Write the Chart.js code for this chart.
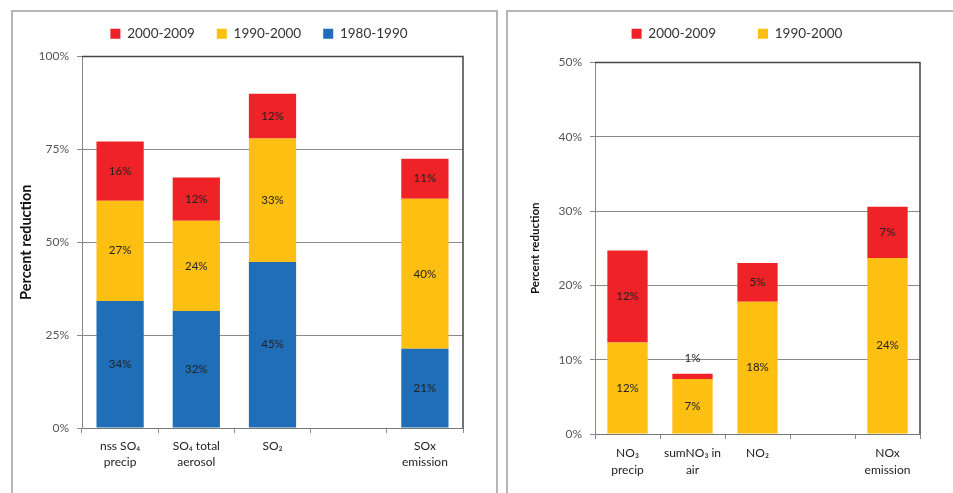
<!DOCTYPE html>
<html><head><meta charset="utf-8">
<script src="https://cdn.jsdelivr.net/npm/chart.js@4"></script>
<style>
html,body{margin:0;padding:0;background:#fff;overflow:hidden;width:953px;height:493px;}
.panel{position:absolute;border:2px solid #b5b5b5;box-sizing:border-box;}
#p1{left:11px;top:10px;width:487px;height:520px;}
#p2{left:506px;top:10px;width:520px;height:520px;}
.wrap{position:absolute;}
#w1{left:14px;top:5px;width:490px;height:479px;}
#w2{left:509px;top:-15px;width:456px;height:505px;}
</style></head>
<body>
<div class="panel" id="p1"></div>
<div class="panel" id="p2"></div>
<div class="wrap" id="w1"><canvas id="c1"></canvas></div>
<div class="wrap" id="w2"><canvas id="c2"></canvas></div>
<script>
// ---- data ----
const leftCategories = [["nss SO\u2084","precip"],["SO\u2084 total","aerosol"],"SO\u2082","",["SOx","emission"]];
const left1980_1990 = [34.2, 31.5, 44.7, null, 21.3];
const left1990_2000 = [27.0, 24.3, 33.2, null, 40.4];
const left2000_2009 = [15.9, 11.6, 12.1, null, 10.8];
const leftTicks = [0, 25, 50, 75, 100];

const rightCategories = [["NO\u2083","precip"],["sumNO\u2083 in","air"],"NO\u2082","",["NOx","emission"]];
const right1990_2000 = [12.3, 7.4, 17.8, null, 23.7];
const right2000_2009 = [12.4, 0.7, 5.2, null, 6.9];
const rightTicks = [0, 10, 20, 30, 40, 50];

const seriesNames = ["1980-1990","1990-2000","2000-2009"];
// ---- style ----
const RED = '#EE2227', YELLOW = '#FDBF12', BLUE = '#1F6EB7';
const FONT = 'Lato, "Open Sans", sans-serif';

const labelPlugin = {
  id: 'segLabels',
  afterDatasetsDraw(chart) {
    const ctx = chart.ctx;
    ctx.save();
    ctx.font = '11.5px ' + FONT;
    ctx.fillStyle = '#222';
    ctx.textAlign = 'center';
    ctx.textBaseline = 'middle';
    chart.data.datasets.forEach((ds, di) => {
      const meta = chart.getDatasetMeta(di);
      meta.data.forEach((el, i) => {
        const v = ds.data[i];
        if (v === null || v === undefined) return;
        const h = Math.abs(el.base - el.y);
        const txt = Math.round(v) + '%';
        if (h >= 14) ctx.fillText(txt, el.x, (el.y + el.base) / 2);
        else ctx.fillText(txt, el.x, el.y - 16);
      });
    });
    ctx.restore();
  }
};
const boxPlugin = {
  id: 'plotBox',
  afterDraw(chart) {
    const a = chart.chartArea, ctx = chart.ctx;
    ctx.save();
    ctx.strokeStyle = '#444';
    ctx.lineWidth = 1.5;
    ctx.beginPath();
    ctx.moveTo(a.left, a.top); ctx.lineTo(a.right, a.top); ctx.lineTo(a.right, a.bottom);
    ctx.stroke();
    ctx.restore();
  }
};

function makeChart(id, cats, datasets, ticks, yMax, o) {
  return new Chart(document.getElementById(id), {
    type: 'bar',
    data: { labels: cats, datasets: datasets },
    options: {
      responsive: true, maintainAspectRatio: false, animation: false,
      layout: { padding: 0 },
      datasets: { bar: { categoryPercentage: 1, barPercentage: 0.62 } },
      plugins: {
        legend: {
          position: 'top', reverse: true,
          labels: { boxWidth: 10, boxHeight: 10, padding: o.legendPad, color: '#333',
                    font: { family: FONT, size: 13.5 } }
        },
        tooltip: { enabled: false }
      },
      scales: {
        x: {
          stacked: true,
          grid: { offset: true, drawOnChartArea: false, tickLength: 5, color: '#888' },
          border: { color: '#777', width: 1 },
          ticks: { color: '#222', padding: 5, autoSkip: false, maxRotation: 0,
                   font: { family: FONT, size: 12, lineHeight: o.xLineH } },
          afterFit(s) { s.height = 56; }
        },
        y: {
          stacked: true, min: 0, max: yMax,
          afterBuildTicks(s) { s.ticks = ticks.map(v => ({ value: v })); },
          grid: { color: '#8a8a8a', tickLength: 5 },
          border: { color: '#888', width: 1 },
          ticks: { color: '#555', padding: 8, font: { family: FONT, size: 12 },
                   callback: v => v + '%' },
          title: { display: true, text: 'Percent reduction', color: '#111',
                   padding: { top: o.titlePad, bottom: 0 },
                   font: { family: FONT, size: o.titleSize, weight: 'bold' } },
          afterFit(s) { s.width = o.yWidth; }
        },
        xTopSpace: {
          type: 'category', position: 'top', display: true,
          grid: { display: false }, ticks: { display: false }, border: { display: false },
          afterFit(s) { s.height = o.topGap; }
        },
        yRightSpace: {
          type: 'linear', position: 'right', display: true,
          grid: { display: false }, ticks: { display: false }, border: { display: false },
          afterFit(s) { s.width = o.rightGap; }
        }
      }
    },
    plugins: [labelPlugin, boxPlugin]
  });
}

makeChart('c1', leftCategories, [
  { label: seriesNames[0], data: left1980_1990, backgroundColor: BLUE, xAxisID: 'x', yAxisID: 'y' },
  { label: seriesNames[1], data: left1990_2000, backgroundColor: YELLOW, xAxisID: 'x', yAxisID: 'y' },
  { label: seriesNames[2], data: left2000_2009, backgroundColor: RED, xAxisID: 'x', yAxisID: 'y' }
], leftTicks, 100, { yWidth: 68, rightGap: 41, topGap: 6, legendPad: 22, titleSize: 14.5, titlePad: 4, xLineH: 1.33 });

makeChart('c2', rightCategories, [
  { label: seriesNames[1], data: right1990_2000, backgroundColor: YELLOW, xAxisID: 'x', yAxisID: 'y' },
  { label: seriesNames[2], data: right2000_2009, backgroundColor: RED, xAxisID: 'x', yAxisID: 'y' }
], rightTicks, 50, { yWidth: 86, rightGap: 45, topGap: 12, legendPad: 42, titleSize: 11.5, titlePad: 19, xLineH: 1.45 });
</script>
</body></html>
